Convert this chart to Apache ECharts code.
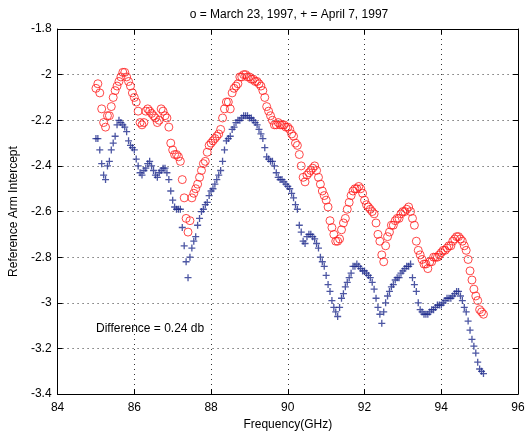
<!DOCTYPE html>
<html>
<head>
<meta charset="utf-8">
<script src="https://cdn.jsdelivr.net/npm/echarts@6/dist/echarts.min.js"></script>
<style>
  html, body { margin: 0; padding: 0; background: #fff; }
  #chart { width: 528px; height: 436px; }
</style>
</head>
<body>
<div id="chart"></div>
<script>
// frequency (GHz) of each sample
const freq = [
  85.00, 85.05, 85.10, 85.15, 85.20, 85.25, 85.30, 85.35, 85.40, 85.45,
  85.50, 85.55, 85.60, 85.65, 85.70, 85.75, 85.80, 85.85, 85.90, 85.95,
  86.00, 86.05, 86.10, 86.15, 86.20, 86.25, 86.30, 86.35, 86.40, 86.45,
  86.50, 86.55, 86.60, 86.65, 86.70, 86.75, 86.80, 86.85, 86.90, 86.95,
  87.00, 87.05, 87.10, 87.15, 87.20, 87.25, 87.30, 87.35, 87.40, 87.45,
  87.50, 87.55, 87.60, 87.65, 87.70, 87.75, 87.80, 87.85, 87.90, 87.95,
  88.00, 88.05, 88.10, 88.15, 88.20, 88.25, 88.30, 88.35, 88.40, 88.45,
  88.50, 88.55, 88.60, 88.65, 88.70, 88.75, 88.80, 88.85, 88.90, 88.95,
  89.00, 89.05, 89.10, 89.15, 89.20, 89.25, 89.30, 89.35, 89.40, 89.45,
  89.50, 89.55, 89.60, 89.65, 89.70, 89.75, 89.80, 89.85, 89.90, 89.95,
  90.00, 90.05, 90.10, 90.15, 90.20, 90.25, 90.30, 90.35, 90.40, 90.45,
  90.50, 90.55, 90.60, 90.65, 90.70, 90.75, 90.80, 90.85, 90.90, 90.95,
  91.00, 91.05, 91.10, 91.15, 91.20, 91.25, 91.30, 91.35, 91.40, 91.45,
  91.50, 91.55, 91.60, 91.65, 91.70, 91.75, 91.80, 91.85, 91.90, 91.95,
  92.00, 92.05, 92.10, 92.15, 92.20, 92.25, 92.30, 92.35, 92.40, 92.45,
  92.50, 92.55, 92.60, 92.65, 92.70, 92.75, 92.80, 92.85, 92.90, 92.95,
  93.00, 93.05, 93.10, 93.15, 93.20, 93.25, 93.30, 93.35, 93.40, 93.45,
  93.50, 93.55, 93.60, 93.65, 93.70, 93.75, 93.80, 93.85, 93.90, 93.95,
  94.00, 94.05, 94.10, 94.15, 94.20, 94.25, 94.30, 94.35, 94.40, 94.45,
  94.50, 94.55, 94.60, 94.65, 94.70, 94.75, 94.80, 94.85, 94.90, 94.95,
  95.00, 95.05, 95.10
];

// o = March 23, 1997
const march23 = [
  -2.06, -2.04, -2.08, -2.15, -2.21, -2.23, -2.18, -2.18, -2.14, -2.10,
  -2.07, -2.05, -2.03, -2.01, -1.99, -1.99, -2.01, -2.03, -2.05, -2.08,
  -2.10, -2.12, -2.16, -2.21, -2.22, -2.21, -2.16, -2.15, -2.16, -2.17,
  -2.18, -2.19, -2.21, -2.20, -2.15, -2.16, -2.18, -2.19, -2.23, -2.30,
  -2.33, -2.35, -2.35, -2.36, -2.38, -2.46, -2.54, -2.63, -2.69, -2.64,
  -2.54, -2.52, -2.50, -2.48, -2.45, -2.42, -2.39, -2.38, -2.34, -2.31,
  -2.30, -2.29, -2.28, -2.27, -2.26, -2.24, -2.19, -2.15, -2.12, -2.12,
  -2.15, -2.08, -2.06, -2.05, -2.04, -2.01, -2.01, -2.00, -2.00, -2.01,
  -2.01, -2.02, -2.02, -2.03, -2.03, -2.04, -2.05, -2.07, -2.10, -2.14,
  -2.16, -2.18, -2.20, -2.22, -2.22, -2.21, -2.22, -2.22, -2.22, -2.23,
  -2.23, -2.24, -2.26, -2.27, -2.30, -2.31, -2.35, -2.40, -2.45, -2.47,
  -2.44, -2.43, -2.42, -2.41, -2.40, -2.42, -2.45, -2.48, -2.51, -2.53,
  -2.55, -2.58, -2.64, -2.67, -2.70, -2.73, -2.73, -2.72, -2.68, -2.65,
  -2.63, -2.59, -2.56, -2.53, -2.51, -2.50, -2.50, -2.49, -2.50, -2.52,
  -2.55, -2.57, -2.58, -2.59, -2.60, -2.61, -2.65, -2.70, -2.73, -2.79,
  -2.82, -2.75, -2.71, -2.69, -2.66, -2.66, -2.64, -2.63, -2.63, -2.61,
  -2.60, -2.60, -2.59, -2.58, -2.60, -2.63, -2.66, -2.73, -2.77, -2.79,
  -2.81, -2.83, -2.83, -2.85, -2.82, -2.82, -2.80, -2.80, -2.80, -2.79,
  -2.78, -2.77, -2.77, -2.76, -2.75, -2.75, -2.73, -2.72, -2.71, -2.71,
  -2.72, -2.73, -2.75, -2.77, -2.81, -2.86, -2.90, -2.94, -2.97, -2.99,
  -3.03, -3.04, -3.05
];

// + = April 7, 1997
const april7 = [
  -2.28, -2.28, -2.33, -2.39, -2.44, -2.46, -2.40, -2.38, -2.33, -2.30,
  -2.27, -2.22, -2.20, -2.21, -2.22, -2.23, -2.25, -2.29, -2.31, -2.32,
  -2.33, -2.37, -2.40, -2.43, -2.44, -2.42, -2.41, -2.39, -2.38, -2.40,
  -2.42, -2.44, -2.45, -2.43, -2.42, -2.41, -2.41, -2.43, -2.46, -2.51,
  -2.55, -2.58, -2.59, -2.59, -2.59, -2.67, -2.75, -2.82, -2.89, -2.80,
  -2.76, -2.73, -2.71, -2.66, -2.63, -2.60, -2.59, -2.57, -2.56, -2.53,
  -2.51, -2.50, -2.48, -2.46, -2.44, -2.42, -2.38, -2.33, -2.29, -2.28,
  -2.27, -2.24, -2.23, -2.21, -2.20, -2.20, -2.19, -2.18, -2.18, -2.18,
  -2.19, -2.19, -2.20, -2.21, -2.22, -2.24, -2.26, -2.28, -2.32, -2.36,
  -2.37, -2.38, -2.38, -2.40, -2.43, -2.45, -2.46, -2.46, -2.47, -2.48,
  -2.49, -2.50, -2.52, -2.54, -2.57, -2.59, -2.66, -2.69, -2.73, -2.74,
  -2.71, -2.70, -2.70, -2.71, -2.72, -2.74, -2.76, -2.80, -2.82, -2.84,
  -2.88, -2.92, -2.95, -2.99, -3.02, -3.04, -3.06, -3.02, -2.98, -2.96,
  -2.93, -2.91, -2.89, -2.87, -2.84, -2.84, -2.83, -2.84, -2.85, -2.86,
  -2.86, -2.87, -2.88, -2.89, -2.91, -2.94, -2.98, -3.02, -3.05, -3.09,
  -3.04, -3.00, -2.97, -2.95, -2.93, -2.92, -2.90, -2.89, -2.89, -2.87,
  -2.86, -2.85, -2.84, -2.84, -2.83, -2.89, -2.92, -2.95, -3.00, -3.03,
  -3.04, -3.05, -3.05, -3.05, -3.04, -3.03, -3.03, -3.02, -3.01, -3.01,
  -3.01, -3.00, -2.99, -2.98, -2.98, -2.98, -2.97, -2.96, -2.95, -2.95,
  -2.97, -2.99, -3.02, -3.04, -3.08, -3.12, -3.16, -3.19, -3.22, -3.26,
  -3.29, -3.30, -3.31
];

const titleText = 'o = March 23, 1997, + = April 7, 1997';
const noteText = 'Difference = 0.24 db';

const font = 'Liberation Sans, Arial, Helvetica, sans-serif';

const chart = echarts.init(document.getElementById('chart'));

const gridLine = {
  show: true,
  lineStyle: { color: '#333', width: 1, type: [1, 4] }
};

const option = {
  animation: false,
  backgroundColor: '#fff',
  textStyle: { fontFamily: font },
  title: {
    text: titleText,
    left: 284,
    top: 4,
    textAlign: 'center',
    textStyle: { fontSize: 12, fontWeight: 'normal', color: '#000', fontFamily: font }
  },
  grid: { left: 51, right: 10, top: 29, bottom: 33, containLabel: false },
  graphic: [
    {
      type: 'text',
      left: 96,
      top: 323,
      style: { text: noteText, fontSize: 12, fontFamily: font, fill: '#000' }
    }
  ],
  xAxis: [
    {
      type: 'value',
      min: 84,
      max: 96,
      interval: 2,
      name: 'Frequency(GHz)',
      nameLocation: 'middle',
      nameGap: 23,
      nameTextStyle: { fontSize: 12, color: '#000' },
      axisLine: { show: true, onZero: false, lineStyle: { color: '#000' } },
      axisTick: { show: true, inside: true, length: 5, lineStyle: { color: '#000' } },
      axisLabel: { fontSize: 12, color: '#000', margin: 8 },
      splitLine: gridLine
    },
    {
      type: 'value',
      position: 'top',
      min: 84,
      max: 96,
      interval: 2,
      axisLine: { show: true, onZero: false, lineStyle: { color: '#000' } },
      axisTick: { show: true, inside: true, length: 5, lineStyle: { color: '#000' } },
      axisLabel: { show: false },
      splitLine: { show: false }
    }
  ],
  yAxis: [
    {
      type: 'value',
      min: -3.4,
      max: -1.8,
      interval: 0.2,
      name: 'Reference Arm Intercept',
      nameLocation: 'middle',
      nameGap: 26,
      nameTextStyle: { fontSize: 12, color: '#000' },
      axisLine: { show: true, onZero: false, lineStyle: { color: '#000' } },
      axisTick: { show: true, inside: true, length: 5, lineStyle: { color: '#000' } },
      axisLabel: { fontSize: 12, color: '#000', margin: 6 },
      splitLine: gridLine
    },
    {
      type: 'value',
      position: 'right',
      min: -3.4,
      max: -1.8,
      interval: 0.2,
      axisLine: { show: true, onZero: false, lineStyle: { color: '#000' } },
      axisTick: { show: true, inside: true, length: 5, lineStyle: { color: '#000' } },
      axisLabel: { show: false },
      splitLine: { show: false }
    }
  ],
  series: [
    {
      name: 'March 23, 1997',
      type: 'scatter',
      symbol: 'circle',
      symbolSize: 8,
      itemStyle: { color: 'rgba(0,0,0,0)', borderColor: '#ff1a1a', borderWidth: 1 },
      data: freq.map((f, i) => [f, march23[i]])
    },
    {
      name: 'April 7, 1997',
      type: 'scatter',
      symbol: 'path://M0,-5L0,5M-5,0L5,0',
      symbolSize: 7,
      itemStyle: { color: 'rgba(0,0,0,0)', borderColor: '#1f2c8c', borderWidth: 1.3 },
      data: freq.map((f, i) => [f, april7[i]])
    }
  ]
};

chart.setOption(option);
</script>
</body>
</html>
